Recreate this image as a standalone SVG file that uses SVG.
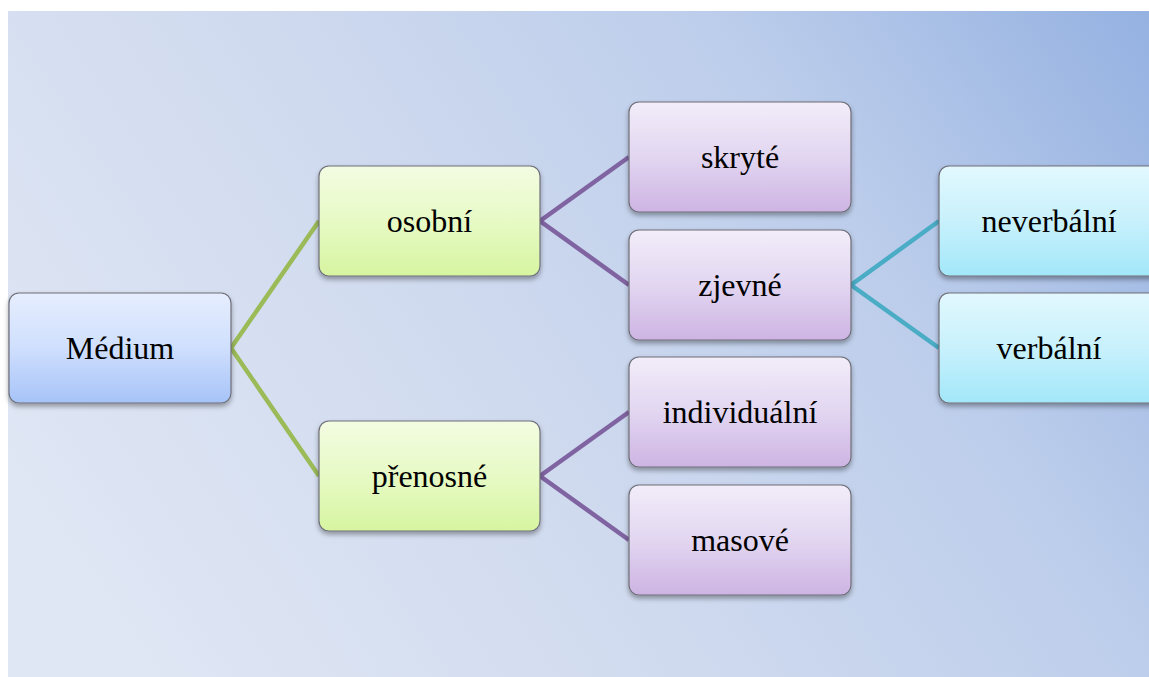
<svg xmlns="http://www.w3.org/2000/svg" width="1149" height="677" viewBox="0 0 1149 677">
  <defs>
    <linearGradient id="bg" gradientUnits="userSpaceOnUse" x1="150" y1="677" x2="1149" y2="0">
      <stop offset="0" stop-color="#dfe6f4"/>
      <stop offset="0.35" stop-color="#d1dbef"/>
      <stop offset="0.7" stop-color="#bccdeb"/>
      <stop offset="1" stop-color="#94b1e1"/>
    </linearGradient>
    <linearGradient id="gBlue" x1="0" y1="0" x2="0" y2="1">
      <stop offset="0" stop-color="#e6eefe"/>
      <stop offset="0.5" stop-color="#cfdffd"/>
      <stop offset="1" stop-color="#a6c3f8"/>
    </linearGradient>
    <linearGradient id="gGreen" x1="0" y1="0" x2="0" y2="1">
      <stop offset="0" stop-color="#f3fce2"/>
      <stop offset="0.5" stop-color="#e7fac5"/>
      <stop offset="1" stop-color="#d6f5a0"/>
    </linearGradient>
    <linearGradient id="gPurple" x1="0" y1="0" x2="0" y2="1">
      <stop offset="0" stop-color="#f2edf9"/>
      <stop offset="0.5" stop-color="#e2d6f1"/>
      <stop offset="1" stop-color="#ceb4e3"/>
    </linearGradient>
    <linearGradient id="gCyan" x1="0" y1="0" x2="0" y2="1">
      <stop offset="0" stop-color="#e2f8fe"/>
      <stop offset="0.5" stop-color="#c8f1fc"/>
      <stop offset="1" stop-color="#a2e7f9"/>
    </linearGradient>
    <filter id="shadow" x="-10%" y="-10%" width="120%" height="130%">
      <feDropShadow dx="0" dy="3" stdDeviation="2.5" flood-color="#000" flood-opacity="0.35"/>
    </filter>
  </defs>
  <style>
    .box { stroke: #6e6e78; stroke-width: 1.2; filter: url(#shadow); }
    .lbl { font-size: 32px; fill: #000; text-anchor: middle; }
    .link { fill: none; stroke-width: 4.5; }
    .green { stroke: #9bbb59; }
    .purple { stroke: #8064a2; }
    .teal { stroke: #4bacc6; }
  </style>

  <rect x="0" y="0" width="1149" height="677" fill="#ffffff"/>
  <rect x="8" y="11" width="1141" height="666" fill="url(#bg)"/>

  <!-- connectors -->
  <g id="connectors">
    <polyline class="link green" points="319,221 231,348 319,476"/>
    <polyline class="link purple" points="629,157 540,221 629,285"/>
    <polyline class="link purple" points="629,412 540,476 629,540"/>
    <polyline class="link teal" points="939,221 851,285 939,348"/>
  </g>

  <g id="nodes" font-family="'Liberation Serif', 'DejaVu Serif', serif">
    <g id="node-medium">
      <rect class="box" x="9" y="293" width="222" height="110" rx="10" fill="url(#gBlue)"/>
      <text class="lbl" x="120" y="358.5">Médium</text>
    </g>

    <g id="node-osobni">
      <rect class="box" x="319" y="166" width="221" height="110" rx="10" fill="url(#gGreen)"/>
      <text class="lbl" x="429.5" y="231.5">osobní</text>
    </g>

    <g id="node-prenosne">
      <rect class="box" x="319" y="421" width="221" height="110" rx="10" fill="url(#gGreen)"/>
      <text class="lbl" x="429.5" y="486.5">přenosné</text>
    </g>

    <g id="node-skryte">
      <rect class="box" x="629" y="102" width="222" height="110" rx="10" fill="url(#gPurple)"/>
      <text class="lbl" x="740" y="167.5">skryté</text>
    </g>

    <g id="node-zjevne">
      <rect class="box" x="629" y="230" width="222" height="110" rx="10" fill="url(#gPurple)"/>
      <text class="lbl" x="740" y="295.5">zjevné</text>
    </g>

    <g id="node-individualni">
      <rect class="box" x="629" y="357" width="222" height="110" rx="10" fill="url(#gPurple)"/>
      <text class="lbl" x="740" y="422.5">individuální</text>
    </g>

    <g id="node-masove">
      <rect class="box" x="629" y="485" width="222" height="110" rx="10" fill="url(#gPurple)"/>
      <text class="lbl" x="740" y="550.5">masové</text>
    </g>

    <g id="node-neverbalni">
      <rect class="box" x="939" y="166" width="222" height="110" rx="10" fill="url(#gCyan)"/>
      <text class="lbl" x="1049" y="231.5">neverbální</text>
    </g>

    <g id="node-verbalni">
      <rect class="box" x="939" y="293" width="222" height="110" rx="10" fill="url(#gCyan)"/>
      <text class="lbl" x="1049" y="358.5">verbální</text>
    </g>
  </g>
</svg>
